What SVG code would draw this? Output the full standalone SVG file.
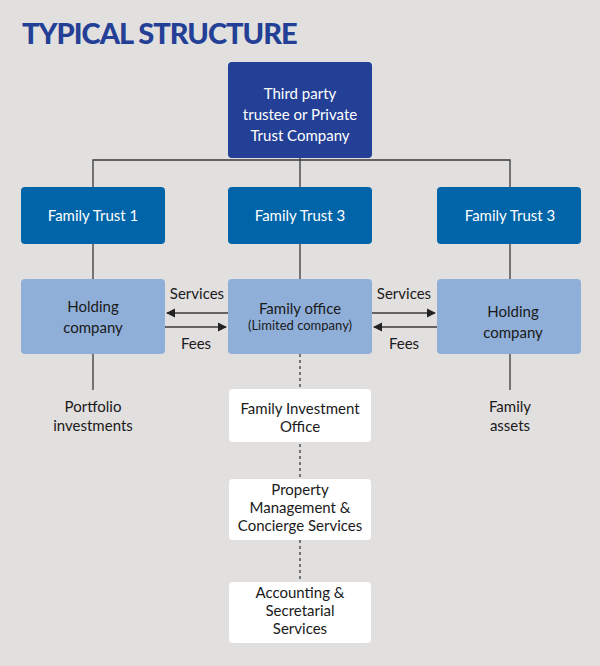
<svg xmlns="http://www.w3.org/2000/svg" width="600" height="666" viewBox="0 0 600 666">
<style>
text{font-family:"Lato","Liberation Sans",sans-serif;text-anchor:middle}
.w{fill:#fff;font-size:15px}
.k{fill:#1a1a1a;font-size:15px}
.ln{stroke:#3a3a3a;stroke-width:1.3;fill:none}
</style>
<defs><marker id="ah" viewBox="0 0 10 10" refX="9" refY="5" markerWidth="7" markerHeight="7" orient="auto"><path d="M0,0L10,5L0,10z" fill="#222"/></marker></defs>
<rect width="600" height="666" fill="#e2dfdf"/>
<text x="22" y="44" style="text-anchor:start;font-size:29px;font-weight:900;fill:#233f96;letter-spacing:-1px">TYPICAL STRUCTURE</text>
<g id="connectors">
<path class="ln" d="M300,158V187M93,187V160H510V187M93,244V279M300,244V279M510,244V279M93,354V390M510,354V390"/>
<path class="ln" d="M300,354V640" stroke-dasharray="3,3"/>
<path class="ln" d="M228,313H167" marker-end="url(#ah)"/>
<path class="ln" d="M165,327H226" marker-end="url(#ah)"/>
<path class="ln" d="M372,313H435" marker-end="url(#ah)"/>
<path class="ln" d="M437,327H374" marker-end="url(#ah)"/>
<text class="k" x="197" y="299">Services</text><text class="k" x="196" y="349">Fees</text>
<text class="k" x="404" y="299">Services</text><text class="k" x="404" y="349">Fees</text>
</g>
<g id="top"><rect x="228" y="62" width="144" height="96" rx="4" fill="#233f96"/><text class="w" x="300" y="99">Third party</text><text class="w" x="300" y="120">trustee or Private</text><text class="w" x="300" y="141">Trust Company</text></g>
<g id="ft1"><rect x="21" y="187" width="144" height="57" rx="4" fill="#0064a8"/><text class="w" x="93" y="221">Family Trust 1</text></g>
<g id="ft2"><rect x="228" y="187" width="144" height="57" rx="4" fill="#0064a8"/><text class="w" x="300" y="221">Family Trust 3</text></g>
<g id="ft3"><rect x="437" y="187" width="144" height="57" rx="4" fill="#0064a8"/><text class="w" x="510" y="221">Family Trust 3</text></g>
<g id="hc1"><rect x="21" y="279" width="144" height="75" rx="4" fill="#8fafd9"/><text class="k" x="93" y="312">Holding</text><text class="k" x="93" y="333">company</text></g>
<g id="fo"><rect x="228" y="279" width="144" height="75" rx="4" fill="#8fafd9"/><text class="k" x="300" y="314">Family office</text><text class="k" x="300" y="330" style="font-size:13px">(Limited company)</text></g>
<g id="hc2"><rect x="437" y="279" width="144" height="75" rx="4" fill="#8fafd9"/><text class="k" x="513" y="317">Holding</text><text class="k" x="513" y="338">company</text></g>
<g id="pi"><text class="k" x="93" y="412">Portfolio</text><text class="k" x="93" y="431">investments</text></g>
<g id="fa"><text class="k" x="510" y="412">Family</text><text class="k" x="510" y="431">assets</text></g>
<g id="fio"><rect x="229" y="389" width="142" height="53" rx="4" fill="#fff"/><text class="k" x="300" y="414">Family Investment</text><text class="k" x="300" y="432">Office</text></g>
<g id="pm"><rect x="229" y="479" width="142" height="61" rx="4" fill="#fff"/><text class="k" x="300" y="495">Property</text><text class="k" x="300" y="513">Management &amp;</text><text class="k" x="300" y="531">Concierge Services</text></g>
<g id="as"><rect x="229" y="582" width="142" height="61" rx="4" fill="#fff"/><text class="k" x="300" y="598">Accounting &amp;</text><text class="k" x="300" y="616">Secretarial</text><text class="k" x="300" y="634">Services</text></g>
</svg>
